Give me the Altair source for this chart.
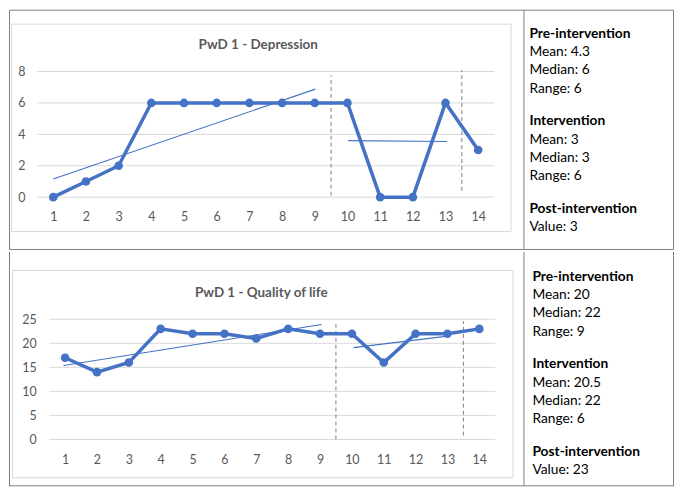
import altair as alt
import pandas as pd

# ---------------- data ----------------
sessions = list(range(1, 15))
depression = [0, 1, 2, 6, 6, 6, 6, 6, 6, 6, 0, 0, 6, 3]
quality = [17, 14, 16, 23, 22, 22, 21, 23, 22, 22, 16, 22, 22, 23]

dep_ticks = [0, 2, 4, 6, 8]
qol_ticks = [0, 5, 10, 15, 20, 25]

# hand-drawn trend lines: [x_start, y_start, x_end, y_end]
dep_trend_pre = [1.0, 1.16, 9.02, 6.88]
dep_trend_int = [10.02, 3.6, 13.05, 3.54]
qol_trend_pre = [0.95, 15.4, 9.05, 23.9]
qol_trend_int = [10.05, 19.1, 13.0, 21.5]

# phase-change dashed lines
phase_x = [9.5, 13.5]
dep_phase_low = [0.1, 0.4]
dep_phase_high = [7.75, 8.1]
qol_phase_low = [0.0, 0.8]
qol_phase_high = [24.6, 24.6]

dep_title = "PwD 1 - Depression"
qol_title = "PwD 1 - Quality of life"

headings = ["Pre-intervention", "Intervention", "Post-intervention"]
dep_notes = [["Mean: 4.3", "Median: 6", "Range: 6"],
             ["Mean: 3", "Median: 3", "Range: 6"],
             ["Value: 3"]]
qol_notes = [["Mean: 20", "Median: 22", "Range: 9"],
             ["Mean: 20.5", "Median: 22", "Range: 6"],
             ["Value: 23"]]

# ---------------- styles ----------------
BLUE = "#4472C4"
GRID = "#d9d9d9"
AXIS_TXT = "#595959"
BORDER = "#7f7f7f"
FONT = "Lato"
W = 667


def one():
    return pd.DataFrame({"k": [0]})


def build_row(values, ticks, ymax, trend_pre, trend_int, ph_low, ph_high,
              title, notes, L):
    xs = alt.Scale(domain=[0.5, 14.5], range=list(L["xr"]), nice=False, zero=False)
    ys = alt.Scale(domain=[0, ymax], range=list(L["yr"]), nice=False)
    xaxis = alt.Axis(values=sessions, title=None, grid=False, domain=False, ticks=False,
                     labelColor=AXIS_TXT, labelFont=FONT, labelFontSize=12.5, format="d",
                     labelPadding=L["xpad"], offset=L["xoff"], labelFlush=False, labelOverlap=False)
    yaxis = alt.Axis(values=ticks, title=None, grid=False, domain=False, ticks=False,
                     labelColor=AXIS_TXT, labelFont=FONT, labelFontSize=12.5, format="d",
                     labelPadding=L["ypad"], offset=L["yoff"], labelFlush=False, labelOverlap=False)

    layers = []
    # table borders
    if L["top_rect"]:
        layers.append(alt.Chart(one()).mark_rect(fill="transparent", stroke=BORDER, strokeWidth=1).encode(
            x=alt.value(0.5), x2=alt.value(W - 0.5), y=alt.value(0.5), y2=alt.value(L["h"] - 0.5)))
    else:
        h = L["h"]
        for (x1, x2, y1, y2) in [(0.5, 0.5, 0, h), (W - 0.5, W - 0.5, 0, h), (0, W, h - 0.5, h - 0.5)]:
            layers.append(alt.Chart(one()).mark_rule(color=BORDER, strokeWidth=1).encode(
                x=alt.value(x1), x2=alt.value(x2), y=alt.value(y1), y2=alt.value(y2)))
    layers.append(alt.Chart(one()).mark_rule(color=BORDER, strokeWidth=1).encode(
        x=alt.value(L["div_x"]), y=alt.value(0), y2=alt.value(L["h"])))

    # inner chart box
    bx = L["box"]
    layers.append(alt.Chart(one()).mark_rect(fill="transparent", stroke=GRID, strokeWidth=1).encode(
        x=alt.value(bx[0]), x2=alt.value(bx[2]), y=alt.value(bx[1]), y2=alt.value(bx[3])))

    # gridlines
    layers.append(alt.Chart(pd.DataFrame({"score": ticks})).mark_rule(color=GRID, strokeWidth=1).encode(
        y=alt.Y("score:Q", scale=ys, axis=yaxis),
        x=alt.value(L["xr"][0]), x2=alt.value(L["xr"][1])))

    # phase lines
    ph = pd.DataFrame({"session": phase_x, "score": ph_low, "hi": ph_high})
    layers.append(alt.Chart(ph).mark_rule(color="#808080", strokeWidth=1, strokeDash=[4, 3]).encode(
        x=alt.X("session:Q", scale=xs, axis=xaxis),
        y=alt.Y("score:Q", scale=ys, axis=yaxis), y2="hi:Q"))

    # trend lines
    tr = pd.DataFrame({
        "seg": ["a", "a", "b", "b"],
        "session": [trend_pre[0], trend_pre[2], trend_int[0], trend_int[2]],
        "score": [trend_pre[1], trend_pre[3], trend_int[1], trend_int[3]],
    })
    layers.append(alt.Chart(tr).mark_line(color=BLUE, strokeWidth=1.1).encode(
        x=alt.X("session:Q", scale=xs, axis=xaxis),
        y=alt.Y("score:Q", scale=ys, axis=yaxis), detail="seg:N"))

    # main series
    df = pd.DataFrame({"session": sessions, "score": values})
    layers.append(alt.Chart(df).mark_line(color=BLUE, strokeWidth=3.5).encode(
        x=alt.X("session:Q", scale=xs, axis=xaxis),
        y=alt.Y("score:Q", scale=ys, axis=yaxis)))
    layers.append(alt.Chart(df).mark_circle(color=BLUE, size=75, opacity=1).encode(
        x=alt.X("session:Q", scale=xs, axis=xaxis),
        y=alt.Y("score:Q", scale=ys, axis=yaxis)))

    # chart title
    layers.append(alt.Chart(one()).mark_text(
        font=FONT, fontSize=13.5, fontWeight="bold", color=AXIS_TXT, align="center", baseline="middle"
    ).encode(x=alt.value(L["title_xy"][0]), y=alt.value(L["title_xy"][1]), text=alt.value(title)))

    # notes panel
    y = L["text_y0"]
    for i, head in enumerate(headings):
        if i > 0:
            y += L["para_gap"]
        layers.append(alt.Chart(one()).mark_text(
            font=FONT, fontSize=13.8, fontWeight="bold", color="#000000", align="left", baseline="middle"
        ).encode(x=alt.value(L["text_x"]), y=alt.value(y), text=alt.value(head)))
        y += L["lh"]
        for line in notes[i]:
            layers.append(alt.Chart(one()).mark_text(
                font=FONT, fontSize=13.8, color="#000000", align="left", baseline="middle"
            ).encode(x=alt.value(L["text_x"]), y=alt.value(y), text=alt.value(line)))
            y += L["lh"]
    return alt.layer(*layers).properties(width=W, height=L["h"])


row1_layout = dict(h=241, top_rect=True, div_x=516.5, xr=(28, 487), yr=(188, 62),
                   box=(2.5, 14.5, 503.5, 222.5), title_xy=(250, 35),
                   xpad=13, xoff=188 - 241, ypad=12, yoff=-28,
                   text_x=522, text_y0=24.3, lh=18.3, para_gap=14.5)
row2_layout = dict(h=235, top_rect=False, div_x=516.5, xr=(40.3, 487.7), yr=(188, 67.5),
                   box=(3.5, 18.5, 505.5, 226.5), title_xy=(253, 41),
                   xpad=14, xoff=188 - 235, ypad=13, yoff=-40.3,
                   text_x=525, text_y0=25, lh=18.3, para_gap=14.5)

row1 = build_row(depression, dep_ticks, 8, dep_trend_pre, dep_trend_int,
                 dep_phase_low, dep_phase_high, dep_title, dep_notes, row1_layout)
row2 = build_row(quality, qol_ticks, 25, qol_trend_pre, qol_trend_int,
                 qol_phase_low, qol_phase_high, qol_title, qol_notes, row2_layout)

chart = alt.vconcat(row1, row2, spacing=0).properties(
    padding=0, background="white"
).configure_view(strokeWidth=0).configure_concat(spacing=0)

chart.save("out.html", embed_options={"renderer": "svg", "actions": False})
